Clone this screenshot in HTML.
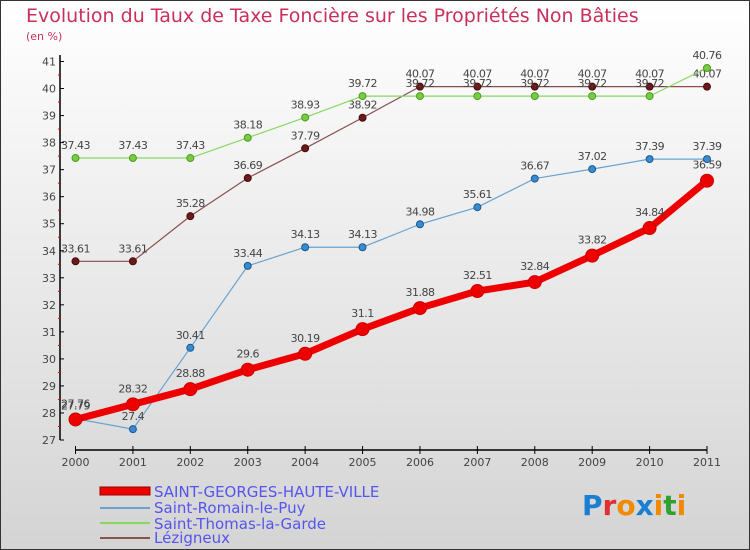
<!DOCTYPE html>
<html><head><meta charset="utf-8"><style>
body{margin:0;}
svg{display:block;font-family:"DejaVu Sans","Liberation Sans",sans-serif;}
</style></head><body>
<svg width="750" height="550" viewBox="0 0 750 550">
<defs><linearGradient id="bg" x1="0" y1="0" x2="0" y2="1"><stop offset="0" stop-color="#ffffff"/><stop offset="1" stop-color="#d4d4d4"/></linearGradient></defs>
<rect x="0.5" y="0.5" width="749" height="549" fill="url(#bg)" stroke="#333"/>
<text x="26" y="22" font-size="19" fill="#c8305a">Evolution du Taux de Taxe Foncière sur les Propriétés Non Bâties</text>
<text x="26" y="40" font-size="11" fill="#c8305a">(en %)</text>
<g id="axes"></g>
<g id="series"></g>
<g>
<rect x="100" y="487" width="50" height="8" fill="#ee0000" stroke="#900"/>
<text x="154" y="497" font-size="15" fill="#5555ee">SAINT-GEORGES-HAUTE-VILLE</text>
<line x1="100" y1="508" x2="150" y2="508" stroke="#6aa3d0" stroke-width="2"/>
<text x="154" y="513" font-size="15" fill="#5555ee">Saint-Romain-le-Puy</text>
<line x1="100" y1="523" x2="150" y2="523" stroke="#88d860" stroke-width="2"/>
<text x="154" y="529" font-size="15" fill="#5555ee">Saint-Thomas-la-Garde</text>
<line x1="100" y1="538" x2="150" y2="538" stroke="#8a5050" stroke-width="2"/>
<text x="154" y="543" font-size="15" fill="#5555ee">Lézigneux</text>
</g>
<text x="582" y="515" font-size="28" font-weight="bold"><tspan fill="#1a7fd0">P</tspan><tspan fill="#e03030">r</tspan><tspan fill="#f08a00">o</tspan><tspan fill="#1a7fd0">x</tspan><tspan fill="#f08a00">i</tspan><tspan fill="#30a030">t</tspan><tspan fill="#f08a00">i</tspan></text>
</svg>
<script>
const years=["2000","2001","2002","2003","2004","2005","2006","2007","2008","2009","2010","2011"];
const yTicks=[27,28,29,30,31,32,33,34,35,36,37,38,39,40,41];
const sgValues=[27.76,28.32,28.88,29.6,30.19,31.1,31.88,32.51,32.84,33.82,34.84,36.59];
const srValues=[27.79,27.4,30.41,33.44,34.13,34.13,34.98,35.61,36.67,37.02,37.39,37.39];
const stValues=[37.43,37.43,37.43,38.18,38.93,39.72,39.72,39.72,39.72,39.72,39.72,40.76];
const lzValues=[33.61,33.61,35.28,36.69,37.79,38.92,40.07,40.07,40.07,40.07,40.07,40.07];
const NS="http://www.w3.org/2000/svg";
const X=i=>75.5+i*(707-75.5)/(years.length-1);
const Y=v=>440-(v-27)*(440-61.5)/14;
function mk(t,a,p){const e=document.createElementNS(NS,t);for(const k in a)e.setAttribute(k,a[k]);p.appendChild(e);return e;}
const ax=document.getElementById('axes');
const yl=mk('line',{x1:60,y1:55,x2:60,y2:440,stroke:'#000','stroke-width':1.5},ax);


const xl=mk('line',{x1:75.5,y1:450,x2:707,y2:450,stroke:'#000','stroke-width':1.5},ax);


yTicks.forEach(v=>{const y=Y(v);
 mk('line',{x1:60,y1:y,x2:64,y2:y,stroke:'#000'},ax);
 if(v<41)mk('line',{x1:58,y1:Y(v+0.5),x2:61,y2:Y(v+0.5),stroke:'#d00'},ax);
 const t=mk('text',{x:56,y:y+4,'font-size':11,fill:'#444','text-anchor':'end'},ax);t.textContent=v;
 
 
});
years.forEach((yr,i)=>{const x=X(i);
 mk('line',{x1:x,y1:446,x2:x,y2:454,stroke:'#000'},ax);
 const t=mk('text',{x:x,y:466,'font-size':11,fill:'#444','text-anchor':'middle'},ax);t.textContent=yr;
 
 
});
const sg=document.getElementById('series');
function series(name,vals,color,w,r,ptFill,ptStroke,dy){
 const g=mk('g',{},sg);
 
 
 mk('polyline',{points:vals.map((v,i)=>X(i)+','+Y(v)).join(' '),fill:'none',stroke:color,'stroke-width':w,'stroke-linejoin':'round'},g);
 vals.forEach((v,i)=>{
  const c=mk('circle',{cx:X(i),cy:Y(v),r:r,fill:ptFill,stroke:ptStroke},g);
  
  
  const t=mk('text',{x:X(i),y:Y(v)+dy,'font-size':11,fill:'#444','text-anchor':'middle','letter-spacing':'-0.5'},g);
  t.textContent=String(v);
  
  
 });
}
series('series-lezigneux',lzValues,'#8a5050',1.2,3.5,'#6a1a1a','#4a0a0a',-9);
series('series-saint-thomas',stValues,'#88d860',1.2,3.5,'#77cc44','#4a9a20',-9);
series('series-saint-romain',srValues,'#6aa3d0',1.2,3.5,'#3a8ad0','#1a5a90',-9);
series('series-saint-georges',sgValues,'#ee0000',7,6.5,'#ee0000','#cc0000',-12);
</script>
</body></html>
